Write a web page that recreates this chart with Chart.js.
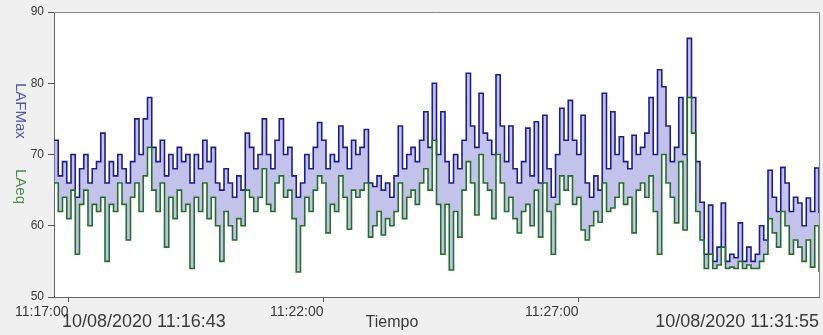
<!DOCTYPE html>
<html>
<head>
<meta charset="utf-8">
<script src="https://cdn.jsdelivr.net/npm/chart.js@4.4.1/dist/chart.umd.min.js"></script>
<style>
  html, body { margin: 0; padding: 0; background: #f0f0f0; }
</style>
</head>
<body>
<canvas id="lineChart" width="823" height="335"></canvas>
<script>
// Sound level record, one value every 5 s from 10/08/2020 11:16:43
const startLabel = '10/08/2020 11:16:43';
const endLabel = '10/08/2020 11:31:55';
const stepSeconds = 5;
const tickSeconds = [17, 317, 617];            // seconds after start
const tickLabels = ['11:17:00', '11:22:00', '11:27:00'];
const yTicks = [50, 60, 70, 80, 90];

const lafmax = [
  72, 67, 69, 66, 70, 64, 68, 70, 66, 68, 69,
  73, 66, 69, 67, 70, 68, 66, 69, 75, 70,
  75, 78, 71, 69, 72, 67, 70, 68, 71, 69,
  70, 66, 70, 68, 72, 69, 71, 66, 65, 68,
  66, 64, 67, 65, 73, 71, 68, 70, 75, 70,
  68, 72, 75, 70, 71, 67, 64, 66, 70, 68,
  71, 74.5, 72, 68, 70, 69, 74, 71, 68, 72,
  70, 71, 73.5, 66, 65.5, 67, 65, 66, 64, 67,
  74, 68, 70, 71, 69, 72, 76, 71, 80, 70,
  76, 69, 66, 70, 68, 72, 81.4, 74, 71, 78.6,
  73, 72, 70, 81.2, 74, 69, 74, 68, 66, 69,
  73.7, 67, 74.6, 66, 75.5, 68, 64, 70, 76.5, 72,
  77.6, 72, 70, 75.5, 66, 64, 67, 65, 78.6, 68,
  76, 70, 72.5, 69, 68, 72.7, 70, 71, 73, 78,
  70, 81.9, 79.5, 74, 69, 71, 78, 70, 86.3, 78,
  69, 63.3, 56, 62.9, 55, 57, 63.2, 55, 56, 55.5,
  60.4, 55, 57, 55, 56, 60, 58, 67.8, 64, 62,
  68.2, 66, 62, 64, 63.2, 60, 63.9, 62, 68.1, 61.8
];

const laeq = [
  66, 62, 64, 61, 65, 56, 63, 65, 60, 63, 62,
  64, 55, 63, 62, 66, 63, 58, 64, 66, 62,
  67, 71, 65, 62, 66, 57, 64, 61, 65, 62,
  63, 54, 64, 62, 66, 61, 64, 60, 55, 62,
  60, 58, 61, 60, 65, 64, 62, 64, 68, 63,
  62, 66, 67, 64, 65, 61, 53.5, 60, 64, 62,
  65, 67, 66, 59, 63, 62, 67, 64, 59.5, 65,
  64, 65, 66, 58.4, 60, 62, 58.7, 61, 60, 62,
  66, 61, 64, 65, 63, 66, 68, 65, 72, 63,
  56, 63, 53.8, 62, 58.4, 65, 69, 66, 61.5, 70,
  66, 65, 61, 70, 66, 62, 64, 61, 59, 62,
  63, 60, 65, 58.4, 66, 62, 56, 63, 67, 65,
  67, 63, 64, 59.4, 58, 60, 62, 60.5, 66, 62,
  62.5, 64, 66, 63, 64, 59, 65, 66, 64, 67,
  62, 56, 70, 66, 64, 60.4, 69, 59.4, 78, 73,
  62, 58, 54, 56, 54, 54.5, 57, 54, 54.2, 54,
  55, 54, 54.5, 54, 54, 55, 56, 61, 59, 57,
  62, 60, 56, 58, 57, 55, 58, 54.2, 60, 53.5
];

const segundos = lafmax.map((v, i) => i * stepSeconds); // x position in seconds

// background, frame and the free text around the plot
const decor = {
  id: 'decor',
  beforeDraw(chart) {
    const { ctx, chartArea: a, width, height } = chart;
    ctx.save();
    ctx.fillStyle = '#f0f0f0';
    ctx.fillRect(0, 0, width, height);
    ctx.fillStyle = '#ffffff';
    ctx.fillRect(a.left, a.top, a.right - a.left, a.bottom - a.top);
    ctx.restore();
  },
  afterDraw(chart) {
    const { ctx, chartArea: a } = chart;
    ctx.save();
    ctx.strokeStyle = '#8a8a8a';
    ctx.lineWidth = 1;
    ctx.beginPath();
    ctx.moveTo(a.left, a.top + 0.5);
    ctx.lineTo(a.right + 0.5, a.top + 0.5);
    ctx.lineTo(a.right + 0.5, a.bottom);
    ctx.stroke();

    ctx.fillStyle = '#3a3a3a';
    ctx.textBaseline = 'middle';
    ctx.font = '18px "Liberation Sans", Arial, sans-serif';
    ctx.textAlign = 'left';
    ctx.fillText(startLabel, 62, 322);
    ctx.textAlign = 'right';
    ctx.fillText(endLabel, 819, 322);
    ctx.textAlign = 'center';
    ctx.font = '16px "Liberation Sans", Arial, sans-serif';
    ctx.fillText('Tiempo', 392, 323);

    // rotated y title in two colours
    ctx.font = '15px "Liberation Sans", Arial, sans-serif';
    ctx.textAlign = 'left';
    ctx.translate(20, 83);
    ctx.rotate(Math.PI / 2);
    ctx.fillStyle = '#5454a8';
    ctx.fillText('LAFMax', 0, 0);
    ctx.fillStyle = '#4a8c4a';
    ctx.fillText('LAeq', 86, 0);
    ctx.restore();
  }
};

const chart = new Chart(document.getElementById('lineChart'), {
  type: 'line',
  data: {
    datasets: [
      {
        label: 'LAFMax',
        data: segundos.map((s, i) => ({ x: s, y: lafmax[i] })),
        borderColor: '#1e1e88',
        backgroundColor: 'rgba(120, 120, 210, 0.45)',
        borderWidth: 1.6,
        stepped: true,
        pointRadius: 0,
        fill: '+1',            // shade the gap down to LAeq
        order: 2
      },
      {
        label: 'LAeq',
        data: segundos.map((s, i) => ({ x: s, y: laeq[i] })),
        borderColor: '#23702a',
        borderWidth: 1.6,
        stepped: true,
        pointRadius: 0,
        fill: false,
        order: 1
      }
    ]
  },
  options: {
    responsive: false,
    animation: false,
    layout: { padding: { top: 12, right: 4 } },
    plugins: {
      legend: { display: false },
      tooltip: { enabled: false }
    },
    scales: {
      x: {
        type: 'linear',
        min: 0,
        max: 900,
        afterBuildTicks: (s) => { s.ticks = tickSeconds.map(v => ({ value: v })); },
        afterFit: (s) => { s.height = 38; },
        ticks: {
          align: 'end',
          maxRotation: 0,
          autoSkip: false,
          padding: 2,
          color: '#3a3a3a',
          font: { family: '"Liberation Sans", Arial, sans-serif', size: 14 },
          callback: (v, i) => tickLabels[i]
        },
        grid: { drawOnChartArea: false, tickLength: 5, color: '#555' },
        border: { color: '#666', width: 1 }
      },
      y: {
        min: 50,
        max: 90,
        afterBuildTicks: (s) => { s.ticks = yTicks.map(v => ({ value: v })); },
        afterFit: (s) => { s.width = 54; },
        ticks: {
          padding: 4,
          color: '#3a3a3a',
          font: { family: '"Liberation Sans", Arial, sans-serif', size: 12 }
        },
        grid: { drawOnChartArea: false, tickLength: 6, color: '#555' },
        border: { color: '#666', width: 1 }
      }
    }
  },
  plugins: [decor]
});
</script>
</body>
</html>
